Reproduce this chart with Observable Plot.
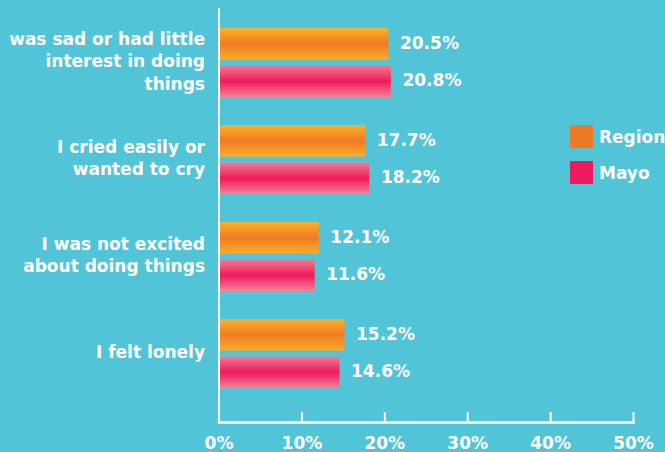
<!DOCTYPE html>
<html>
<head>
<meta charset="utf-8">
<script src="https://cdn.jsdelivr.net/npm/d3@7"></script>
<script src="https://cdn.jsdelivr.net/npm/@observablehq/plot@0.6"></script>
<style>
  html, body { margin: 0; padding: 0; background: #52C4D8; }
  #wrap { position: relative; width: 665px; height: 452px; overflow: hidden; background: #52C4D8;
          font-family: "DejaVu Sans", sans-serif; font-weight: bold; color: #fff; }
  .leg { position: absolute; left: 570px; display: flex; align-items: center; font-size: 17px; white-space: nowrap; }
  .leg span.sw { width: 23px; height: 23px; margin-right: 6px; display: inline-block; }
</style>
</head>
<body>
<div id="wrap"></div>
<script>
const categories = [
  "was sad or had little\ninterest in doing\nthings",
  "I cried easily or\nwanted to cry",
  "I was not excited\nabout doing things",
  "I felt lonely"
];
const series = ["Region", "Mayo"];
const regionValues = [20.5, 17.7, 12.1, 15.2];
const mayoValues = [20.8, 18.2, 11.6, 14.6];
const xTicks = [0, 10, 20, 30, 40, 50];
const xTickLabels = ["0%", "10%", "20%", "30%", "40%", "50%"];

const regionData = categories.map((c, i) => ({category: c, value: regionValues[i]}));
const mayoData = categories.map((c, i) => ({category: c, value: mayoValues[i]}));

const W = 665, H = 452, mTop = 8, mBottom = 30;
const frameH = H - mTop - mBottom;
const half = 37.5;

const fmt = v => v.toFixed(1) + "%";

const svg = Plot.plot({
  width: W,
  height: H,
  marginLeft: 218.5,
  marginRight: 32,
  marginTop: mTop,
  marginBottom: mBottom,
  style: {background: "transparent", color: "#fff", fontFamily: "DejaVu Sans, sans-serif", fontWeight: "bold", fontSize: "17px"},
  x: {domain: [0, 50]},
  y: {domain: categories, paddingInner: 0.2857, paddingOuter: 0.265, align: 0.365},
  marks: [
    Plot.barX(regionData, {y: "category", x: "value", fill: "url(#gradRegion)", insetBottom: half}),
    Plot.barX(mayoData, {y: "category", x: "value", fill: "url(#gradMayo)", insetTop: half}),
    Plot.text(regionData, {y: "category", x: "value", text: d => fmt(d.value), dx: 11, dy: -19.5, textAnchor: "start", fill: "#fff", fontSize: 17}),
    Plot.text(mayoData, {y: "category", x: "value", text: d => fmt(d.value), dx: 11, dy: 18, textAnchor: "start", fill: "#fff", fontSize: 17}),
    Plot.text(categories, {y: d => d, x: () => 0, text: d => d, dx: -14, dy: -3, textAnchor: "end", fill: "#fff", fontSize: 17, lineHeight: 1.32}),
    Plot.ruleX([0], {stroke: "#fff", strokeWidth: 2}),
    Plot.frame({anchor: "bottom", stroke: "#fff", strokeWidth: 2.5}),
    Plot.ruleX(xTicks.slice(1), {stroke: "#fff", strokeWidth: 2, insetTop: frameH - 10}),
    Plot.axisX(xTicks, {tickSize: 0, tickPadding: 14, tickFormat: (d, i) => xTickLabels[i], fontSize: 17, fill: "#fff", label: null}),
    Plot.axisY({ticks: [], label: null})
  ]
});

const defs = d3.select(svg).append("defs");
function grad(id, stops) {
  const g = defs.append("linearGradient").attr("id", id).attr("x1", 0).attr("y1", 0).attr("x2", 0).attr("y2", 1);
  stops.forEach(([o, c]) => g.append("stop").attr("offset", o).attr("stop-color", c));
}
grad("gradRegion", [["0%", "#FAB22A"], ["50%", "#F07A22"], ["100%", "#F9AE2A"]]);
grad("gradMayo", [["0%", "#F37C90"], ["50%", "#EE1A5E"], ["100%", "#F48296"]]);

const wrap = document.getElementById("wrap");
wrap.appendChild(svg);
svg.style.position = "absolute";
svg.style.left = "0";
svg.style.top = "0";

const legendColors = ["#EE7A24", "#EE1A5F"];
const legendTops = [125, 161];
series.forEach((s, i) => {
  const d = document.createElement("div");
  d.className = "leg";
  d.style.top = legendTops[i] + "px";
  d.innerHTML = `<span class="sw" style="background:${legendColors[i]}"></span><span>${s}</span>`;
  wrap.appendChild(d);
});
</script>
</body>
</html>
